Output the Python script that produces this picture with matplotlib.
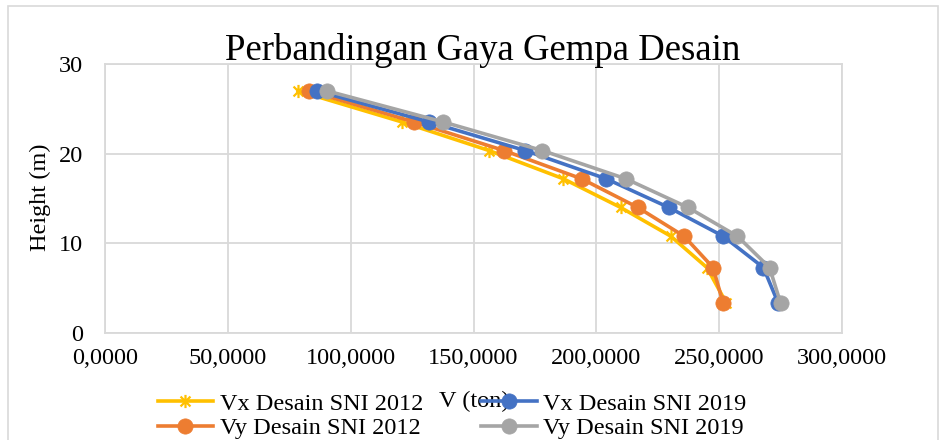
import matplotlib
matplotlib.use("Agg")
import matplotlib.pyplot as plt
from matplotlib.path import Path
from matplotlib.patches import Rectangle
from matplotlib.ticker import FuncFormatter

plt.rcParams['font.family'] = ['Liberation Serif', 'DejaVu Serif']

height = [3.35, 7.3, 10.8, 14.0, 17.2, 20.35, 23.55, 27.0]
vx_2012 = [252.9, 245.0, 230.3, 209.9, 186.6, 156.3, 120.7, 78.6]
vy_2012 = [251.6, 247.5, 235.7, 216.9, 194.0, 162.4, 125.6, 83.0]
vx_2019 = [274.0, 268.0, 251.6, 229.5, 204.0, 171.0, 131.7, 86.3]
vy_2019 = [275.0, 270.5, 257.4, 237.3, 212.0, 178.0, 137.5, 90.4]

series = [
    ("Vx Desain SNI 2012", vx_2012, "#FFC000", "star"),
    ("Vy Desain SNI 2012", vy_2012, "#ED7D31", "o"),
    ("Vx Desain SNI 2019", vx_2019, "#4472C4", "o"),
    ("Vy Desain SNI 2019", vy_2019, "#A5A5A5", "o"),
]
x_ticks = [0, 50, 100, 150, 200, 250, 300]
y_ticks = [0, 10, 20, 30]

W, H = 939, 440
fig = plt.figure(figsize=(W / 100, H / 100), dpi=100)

# outer chart border
fig.patches.append(Rectangle((8 / W, -0.05), (W - 9) / W, 1.05 - 6 / H,
                             transform=fig.transFigure, fill=False,
                             edgecolor="#D9D9D9", linewidth=1.2))

ax = fig.add_axes([105 / W, (H - 333) / H, (842 - 105) / W, (333 - 64) / H])

star_path = Path([(0, -1), (0, 1), (-0.75, -0.75), (0.75, 0.75), (-0.75, 0.75), (0.75, -0.75)],
                 [Path.MOVETO, Path.LINETO, Path.MOVETO, Path.LINETO, Path.MOVETO, Path.LINETO])

for name, vals, col, mk in series:
    if mk == "star":
        ax.plot(vals, height, color=col, lw=2.6, marker=star_path, ms=9.5,
                mew=1.6, mec=col, mfc="none", label=name, zorder=3)
    else:
        ax.plot(vals, height, color=col, lw=2.6, marker="o", ms=11,
                mew=0.5, mec=col, mfc=col, label=name, zorder=3)

ax.set_xlim(0, 300)
ax.set_ylim(0, 30)
ax.set_xticks(x_ticks)
ax.set_yticks(y_ticks)
ax.xaxis.set_major_formatter(FuncFormatter(lambda v, p: f"{v:.4f}".replace(".", ",")))
ax.yaxis.set_major_formatter(FuncFormatter(lambda v, p: f"{v:.0f}"))
ax.tick_params(length=0, labelsize=17.5, colors="#000000")
ax.tick_params(axis="x", pad=11)
ax.tick_params(axis="y", pad=16)
ax.grid(True, color="#D9D9D9", lw=1.3, zorder=0)
ax.set_axisbelow(True)
for s in ax.spines.values():
    s.set_color("#D9D9D9")
    s.set_linewidth(1.3)

fig.text(483 / W, 1 - 60 / H, "Perbandingan Gaya Gempa Desain", ha="center", va="baseline",
         fontsize=26.5)
fig.text(474 / W, 1 - 401 / H, "V (ton)", ha="center", va="center", fontsize=17.5, zorder=1)
fig.text(40 / W, 1 - 197 / H, "Height (m)", ha="center", va="center", rotation=90,
         fontsize=17.5)

leg = fig.legend(loc="center", bbox_to_anchor=(452 / W, 1 - 416 / H), ncol=2,
                 frameon=False, fontsize=17.5, handlelength=2.3, handletextpad=0.25,
                 columnspacing=2.4, labelspacing=0.12, borderpad=0, borderaxespad=0)
leg.set_zorder(5)

fig.savefig("out.png", dpi=100)
